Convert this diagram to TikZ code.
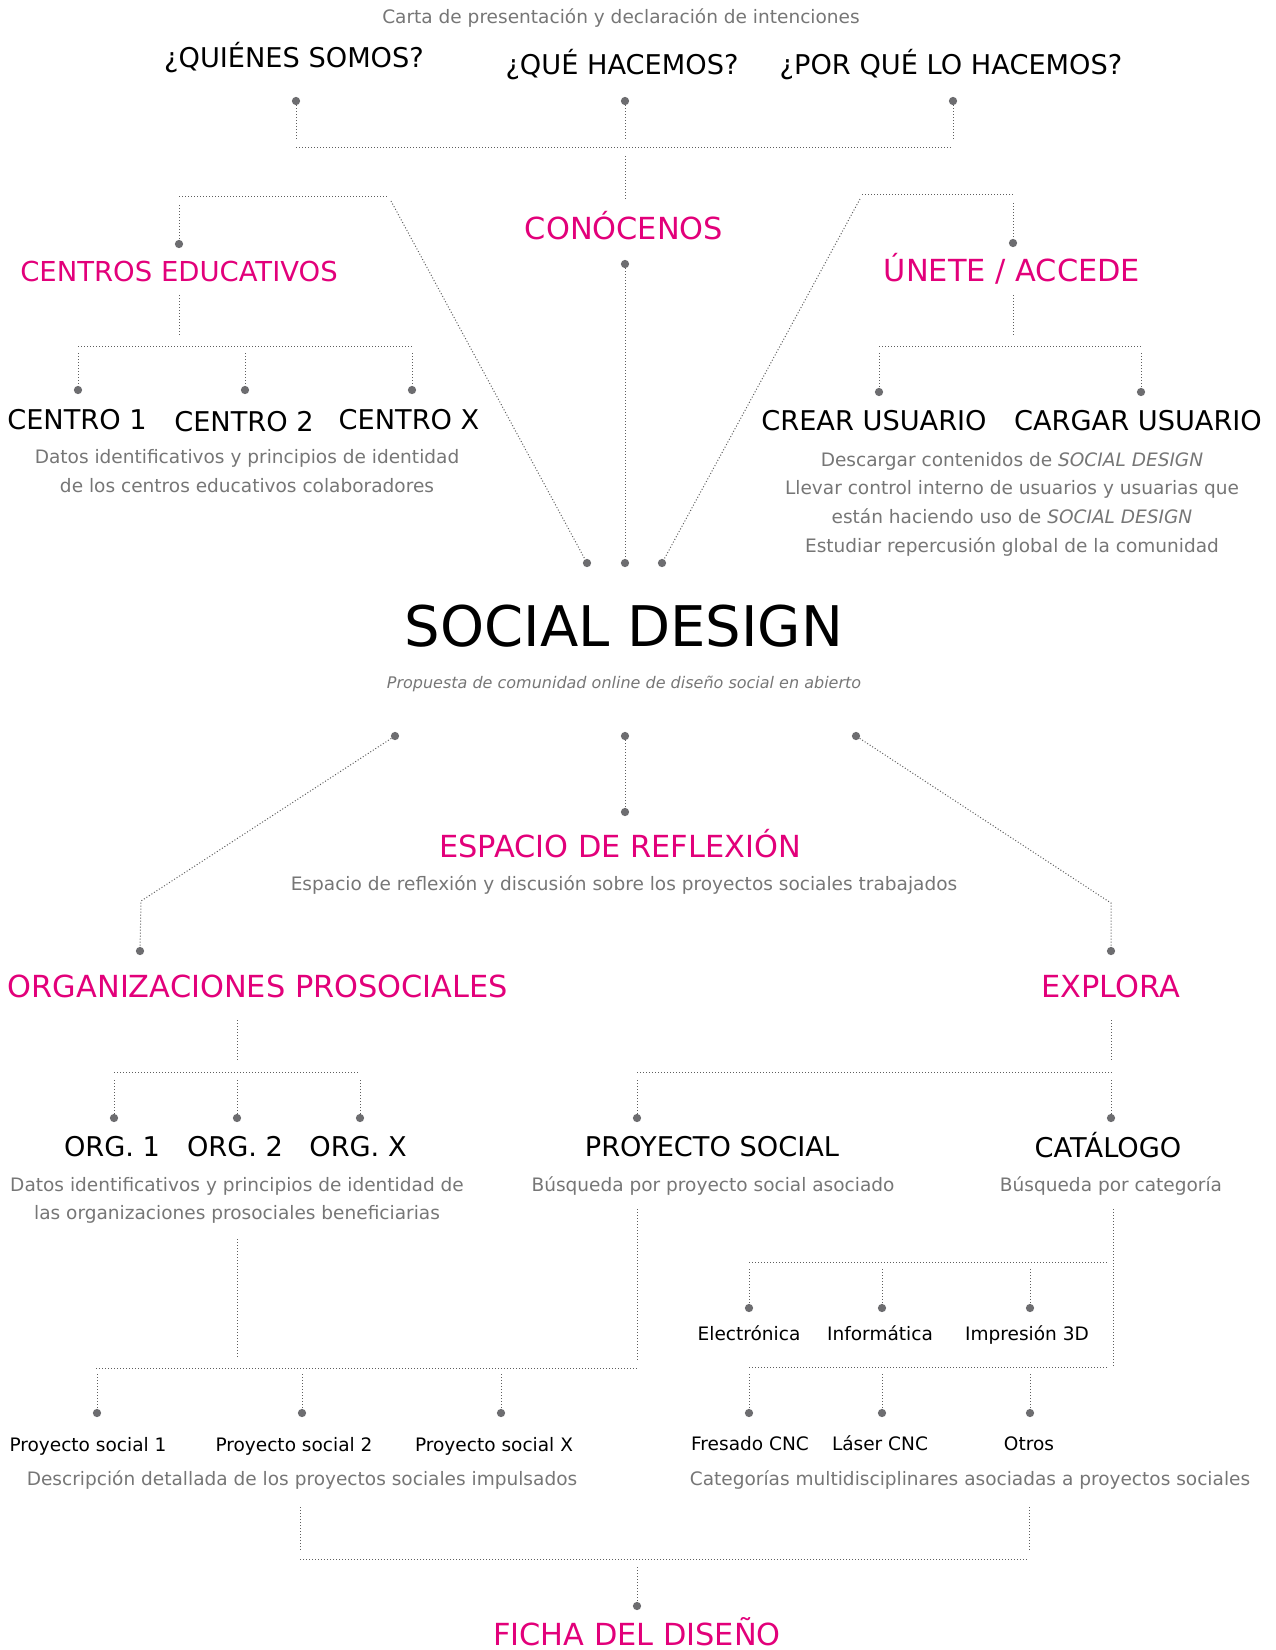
\documentclass[tikz,border=0pt]{standalone}
\usepackage{fontspec}
\setmainfont{DejaVu Sans}
\definecolor{accent}{HTML}{E2007A}
\definecolor{txtgray}{HTML}{767676}
\definecolor{linegray}{HTML}{5E5E5E}
\definecolor{dotgray}{HTML}{6D6D70}
\begin{document}
\begin{tikzpicture}[x=0.75pt,y=-0.75pt,
  lnk/.style={draw=linegray, line width=0.75pt, dash pattern=on 0.75pt off 1.5pt},
  dotn/.style={circle, fill=dotgray, inner sep=0pt, minimum size=6.2pt},
  head/.style={anchor=base, inner sep=0pt, font=\fontsize{20.4}{24}\selectfont},
  pinkhead/.style={anchor=base, inner sep=0pt, text=accent, font=\fontsize{22.8}{27}\selectfont},
  desc/.style={anchor=base, inner sep=0pt, text=txtgray, font=\fontsize{13.9}{17}\selectfont},
  lbl/.style={anchor=base, inner sep=0pt, font=\fontsize{13.9}{16}\selectfont},
  bigtitle/.style={anchor=base, inner sep=0pt, font=\fontsize{42}{48}\selectfont},
  subtitle/.style={anchor=base, inner sep=0pt, text=txtgray, font=\itshape\fontsize{12}{14}\selectfont},
]
\useasboundingbox (0,0) rectangle (1276,1650);

% ---------------- top: presentation letter ----------------
\node[desc] (carta) at (621,23) {Carta de presentación y declaración de intenciones};
\node[head] (quienes) at (294,67) {¿QUIÉNES SOMOS?};
\node[head] (que) at (622,74) {¿QUÉ HACEMOS?};
\node[head] (porque) at (951,74) {¿POR QUÉ LO HACEMOS?};

\node[dotn] (qa) at (296,101) {};
\node[dotn] (qb) at (625,101) {};
\node[dotn] (qc) at (953,101) {};
\coordinate (qa-e) at (296,140);
\coordinate (qb-e) at (625,140);
\coordinate (qc-e) at (953,140);
\draw[lnk] (qa) -- (qa-e);
\draw[lnk] (qb) -- (qb-e);
\draw[lnk] (qc) -- (qc-e);
\coordinate (tb-l) at (296,147);
\coordinate (tb-r) at (953,147);
\draw[lnk] (tb-l) -- (tb-r);
\coordinate (tv-a) at (625,156);
\coordinate (tv-b) at (625,200);
\draw[lnk] (tv-a) -- (tv-b);

\node[pinkhead] (conocenos) at (624,239) {CONÓCENOS};
\node[dotn] (ca) at (625,264) {};
\node[dotn] (sd-c) at (625,563) {};
\draw[lnk] (ca) -- (sd-c);

% ---------------- left branch: schools ----------------
\coordinate (lb-l) at (179,196);
\coordinate (lb-r) at (389,196);
\draw[lnk] (lb-l) -- (lb-r);
\coordinate (lv-top) at (179,205);
\node[dotn] (ce) at (179,244) {};
\draw[lnk] (lv-top) -- (ce);
\coordinate (ld-top) at (391,201);
\node[dotn] (sd-l) at (587,563) {};
\draw[lnk] (ld-top) -- (sd-l);

\node[pinkhead, font=\fontsize{20.6}{24}\selectfont] (centros) at (179,281) {CENTROS EDUCATIVOS};
\coordinate (cv-a) at (179,295);
\coordinate (cv-b) at (179,337);
\draw[lnk] (cv-a) -- (cv-b);
\coordinate (cb-l) at (78,346);
\coordinate (cb-r) at (412,346);
\draw[lnk] (cb-l) -- (cb-r);
\coordinate (c1-t) at (78,353);
\coordinate (c2-t) at (245,353);
\coordinate (c3-t) at (412,353);
\node[dotn] (c1) at (78,390) {};
\node[dotn] (c2) at (245,390) {};
\node[dotn] (c3) at (412,390) {};
\draw[lnk] (c1-t) -- (c1);
\draw[lnk] (c2-t) -- (c2);
\draw[lnk] (c3-t) -- (c3);
\node[head] (centro1) at (77,429) {CENTRO 1};
\node[head] (centro2) at (244,431) {CENTRO 2};
\node[head] (centrox) at (409,429) {CENTRO X};
\node[desc] (cdesc1) at (247,463) {Datos identificativos y principios de identidad};
\node[desc] (cdesc2) at (247,492) {de los centros educativos colaboradores};

% ---------------- right branch: join / access ----------------
\coordinate (rb-l) at (862,194);
\coordinate (rb-r) at (1015,194);
\draw[lnk] (rb-l) -- (rb-r);
\coordinate (rv-top) at (1013,203);
\node[dotn] (un) at (1013,243) {};
\draw[lnk] (rv-top) -- (un);
\coordinate (rd-top) at (860,199);
\node[dotn] (sd-r) at (662,563) {};
\draw[lnk] (rd-top) -- (sd-r);

\node[pinkhead] (unete) at (1012,281) {ÚNETE / ACCEDE};
\coordinate (uv-a) at (1013,295);
\coordinate (uv-b) at (1013,337);
\draw[lnk] (uv-a) -- (uv-b);
\coordinate (ub-l) at (879,346);
\coordinate (ub-r) at (1141,346);
\draw[lnk] (ub-l) -- (ub-r);
\coordinate (u1-t) at (879,353);
\coordinate (u2-t) at (1141,353);
\node[dotn] (u1) at (879,392) {};
\node[dotn] (u2) at (1141,392) {};
\draw[lnk] (u1-t) -- (u1);
\draw[lnk] (u2-t) -- (u2);
\node[head] (crear) at (874,430) {CREAR USUARIO};
\node[head] (cargar) at (1138,430) {CARGAR USUARIO};
\node[desc] (udesc1) at (1012,466) {Descargar contenidos de \textit{SOCIAL DESIGN}};
\node[desc] (udesc2) at (1012,494) {Llevar control interno de usuarios y usuarias que};
\node[desc] (udesc3) at (1012,523) {están haciendo uso de \textit{SOCIAL DESIGN}};
\node[desc] (udesc4) at (1012,552) {Estudiar repercusión global de la comunidad};

% ---------------- centre ----------------
\node[bigtitle] (social) at (624,646) {SOCIAL DESIGN};
\node[subtitle] (propuesta) at (624,688) {Propuesta de comunidad online de diseño social en abierto};

% ---------------- lower branches ----------------
\node[dotn] (la) at (395,736) {};
\node[dotn] (lb) at (625,736) {};
\node[dotn] (lc) at (856,736) {};
\node[dotn] (er) at (625,812) {};
\draw[lnk] (lb) -- (er);
\node[pinkhead] (espacio) at (620,857) {ESPACIO DE REFLEXIÓN};
\node[desc] (edesc) at (624,890) {Espacio de reflexión y discusión sobre los proyectos sociales trabajados};

\coordinate (lbend) at (141,901);
\node[dotn] (op) at (140,951) {};
\draw[lnk] (la) -- (lbend) -- (op);
\coordinate (rbend) at (1111,903);
\node[dotn] (ex) at (1111,951) {};
\draw[lnk] (lc) -- (rbend) -- (ex);

\node[pinkhead] (orgs) at (258,997) {ORGANIZACIONES PROSOCIALES};
\node[pinkhead] (explora) at (1111,997) {EXPLORA};

% organisations
\coordinate (ov-a) at (237,1020);
\coordinate (ov-b) at (237,1062);
\draw[lnk] (ov-a) -- (ov-b);
\coordinate (ob-l) at (114,1072);
\coordinate (ob-r) at (360,1072);
\draw[lnk] (ob-l) -- (ob-r);
\coordinate (o1-t) at (114,1080);
\coordinate (o2-t) at (237,1080);
\coordinate (o3-t) at (360,1080);
\node[dotn] (o1) at (114,1118) {};
\node[dotn] (o2) at (237,1118) {};
\node[dotn] (o3) at (360,1118) {};
\draw[lnk] (o1-t) -- (o1);
\draw[lnk] (o2-t) -- (o2);
\draw[lnk] (o3-t) -- (o3);
\node[head] (org1) at (112,1156) {ORG. 1};
\node[head] (org2) at (235,1156) {ORG. 2};
\node[head] (orgx) at (358,1156) {ORG. X};
\node[desc] (odesc1) at (237,1191) {Datos identificativos y principios de identidad de};
\node[desc] (odesc2) at (237,1219) {las organizaciones prosociales beneficiarias};

% explore
\coordinate (xv-a) at (1111,1020);
\coordinate (xv-b) at (1111,1062);
\draw[lnk] (xv-a) -- (xv-b);
\coordinate (xb-l) at (637,1072);
\coordinate (xb-r) at (1112,1072);
\draw[lnk] (xb-l) -- (xb-r);
\coordinate (ps-t) at (637,1080);
\coordinate (ct-t) at (1111,1080);
\node[dotn] (ps) at (637,1118) {};
\node[dotn] (ct) at (1111,1118) {};
\draw[lnk] (ps-t) -- (ps);
\draw[lnk] (ct-t) -- (ct);
\node[head] (proyecto) at (712,1156) {PROYECTO SOCIAL};
\node[head] (catalogo) at (1108,1157) {CATÁLOGO};
\node[desc] (pdesc) at (713,1191) {Búsqueda por proyecto social asociado};
\node[desc] (kdesc) at (1111,1191) {Búsqueda por categoría};

% social projects
\coordinate (pv1-a) at (237,1239);
\coordinate (pv1-b) at (237,1357);
\draw[lnk] (pv1-a) -- (pv1-b);
\coordinate (pv2-a) at (637,1209);
\coordinate (pv2-b) at (637,1362);
\draw[lnk] (pv2-a) -- (pv2-b);
\coordinate (pb-l) at (96,1368);
\coordinate (pb-r) at (637,1368);
\draw[lnk] (pb-l) -- (pb-r);
\coordinate (p1-t) at (97,1374);
\coordinate (p2-t) at (302,1374);
\coordinate (p3-t) at (501,1374);
\node[dotn] (p1) at (97,1413) {};
\node[dotn] (p2) at (302,1413) {};
\node[dotn] (p3) at (501,1413) {};
\draw[lnk] (p1-t) -- (p1);
\draw[lnk] (p2-t) -- (p2);
\draw[lnk] (p3-t) -- (p3);
\node[lbl] (ps1) at (88,1451) {Proyecto social 1};
\node[lbl] (ps2) at (294,1451) {Proyecto social 2};
\node[lbl] (psx) at (494,1451) {Proyecto social X};
\node[desc] (psdesc) at (302,1485) {Descripción detallada de los proyectos sociales impulsados};

% catalogue categories
\coordinate (kv-a) at (1113,1209);
\coordinate (kv-b) at (1113,1368);
\draw[lnk] (kv-a) -- (kv-b);
\coordinate (kb1-l) at (749,1262);
\coordinate (kb1-r) at (1108,1262);
\draw[lnk] (kb1-l) -- (kb1-r);
\coordinate (k1-t) at (749,1269);
\coordinate (k2-t) at (882,1269);
\coordinate (k3-t) at (1030,1269);
\node[dotn] (k1) at (749,1308) {};
\node[dotn] (k2) at (882,1308) {};
\node[dotn] (k3) at (1030,1308) {};
\draw[lnk] (k1-t) -- (k1);
\draw[lnk] (k2-t) -- (k2);
\draw[lnk] (k3-t) -- (k3);
\node[lbl] (electronica) at (749,1340) {Electrónica};
\node[lbl] (informatica) at (880,1340) {Informática};
\node[lbl] (impresion) at (1027,1340) {Impresión 3D};
\coordinate (kb2-l) at (749,1367);
\coordinate (kb2-r) at (1108,1367);
\draw[lnk] (kb2-l) -- (kb2-r);
\coordinate (m1-t) at (749,1374);
\coordinate (m2-t) at (882,1374);
\coordinate (m3-t) at (1030,1374);
\node[dotn] (m1) at (749,1413) {};
\node[dotn] (m2) at (882,1413) {};
\node[dotn] (m3) at (1030,1413) {};
\draw[lnk] (m1-t) -- (m1);
\draw[lnk] (m2-t) -- (m2);
\draw[lnk] (m3-t) -- (m3);
\node[lbl] (fresado) at (750,1450) {Fresado CNC};
\node[lbl] (laser) at (880,1450) {Láser CNC};
\node[lbl] (otros) at (1029,1450) {Otros};
\node[desc] (kcdesc) at (970,1485) {Categorías multidisciplinares asociadas a proyectos sociales};

% ---------------- design sheet ----------------
\coordinate (fv1-a) at (300,1507);
\coordinate (fv1-b) at (300,1550);
\draw[lnk] (fv1-a) -- (fv1-b);
\coordinate (fv2-a) at (1029,1507);
\coordinate (fv2-b) at (1029,1550);
\draw[lnk] (fv2-a) -- (fv2-b);
\coordinate (fb-l) at (300,1559);
\coordinate (fb-r) at (1029,1559);
\draw[lnk] (fb-l) -- (fb-r);
\coordinate (fd-t) at (637,1567);
\node[dotn] (fd) at (637,1606) {};
\draw[lnk] (fd-t) -- (fd);
\node[pinkhead] (ficha) at (637,1645) {FICHA DEL DISEÑO};
\end{tikzpicture}
\end{document}
